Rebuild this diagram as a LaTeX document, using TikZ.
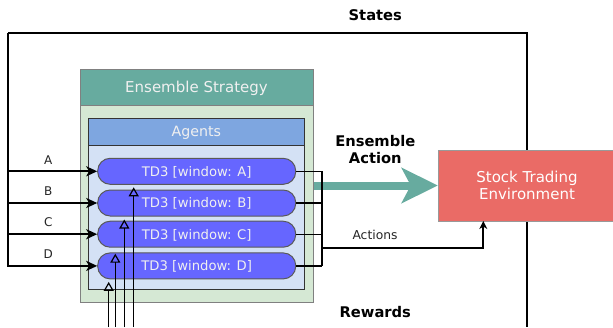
\documentclass[tikz,border=0pt]{standalone}
\usepackage{fontspec}
\setmainfont{DejaVu Sans}
\usetikzlibrary{arrows.meta}
\definecolor{enshd}{HTML}{67AB9F}
\definecolor{ensbd}{HTML}{D5E8D4}
\definecolor{aghd}{HTML}{7EA6E0}
\definecolor{agbd}{HTML}{D4E1F5}
\definecolor{tdfill}{HTML}{6666FF}
\definecolor{envfill}{HTML}{EA6B66}
\tikzset{
  box/.style={inner sep=0pt, line width=1pt},
  tdnode/.style={box, draw=black!65, fill=tdfill, rounded corners=12.5pt,
    minimum width=198pt, minimum height=26pt, text=white!94!black,
    font=\fontsize{13.2}{15.6}\selectfont, text height=9.6pt, text depth=0pt},
  lbl/.style={inner sep=0pt, text depth=0pt},
  boldlbl/.style={lbl, font=\fontsize{14.7}{17.5}\selectfont\bfseries, text height=10.7pt},
  flow/.style={line width=2pt},
  thinline/.style={line width=1.2pt},
  rwd/.style={thinline, -{Triangle[open, length=9pt, width=10pt]}},
}
\begin{document}
\begin{tikzpicture}[x=1pt,y=-1pt]
\clip (0,0) rectangle (613,327);
\fill[white] (0,0) rectangle (613,327);

% coordinates
\coordinate (stl) at (8,33);
\coordinate (envbot) at (527,327);
\coordinate (busTop) at (322,171.3);
\coordinate (busBot) at (322,265.9);
\coordinate (busAct) at (322,247.7);
\coordinate (envin) at (483.3,221);
\coordinate (r1) at (108.7,327);
\coordinate (r2) at (115.3,327);
\coordinate (r3) at (124.3,327);
\coordinate (r4) at (133.7,327);

% ensemble strategy container
\node[box, draw=black!50, fill=ensbd, minimum width=233pt, minimum height=233pt] (ens) at (196.5,185.5) {};
\node[box, draw=black!50, fill=enshd, minimum width=233pt, minimum height=36pt,
  text=white!94!black, font=\fontsize{15}{17}\selectfont, text height=10.9pt, text depth=0pt] (enshead) at (196.5,87) {Ensemble Strategy};
% agents container
\node[box, draw=black!80, fill=agbd, minimum width=215.3pt, minimum height=170.7pt] (ag) at (196.35,203.65) {};
\node[box, draw=black!80, fill=aghd, minimum width=215.3pt, minimum height=27pt,
  text=white!94!black, font=\fontsize{14.2}{17}\selectfont, text height=10.3pt, text depth=0pt] (aghead) at (196.35,131.8) {Agents};

% agents
\node[tdnode] (tdA) at (196.7,171.3) {TD3 [window: A]};
\node[tdnode] (tdB) at (196.7,203) {TD3 [window: B]};
\node[tdnode] (tdC) at (196.7,234.2) {TD3 [window: C]};
\node[tdnode] (tdD) at (196.7,265.9) {TD3 [window: D]};

% ensemble action arrow
\node[inner sep=0pt, minimum width=178pt, minimum height=71pt] (envph) at (527,185.5) {};
\draw[enshd, line width=8pt, -{Stealth[length=36pt, width=35pt, inset=9pt]}] (ens.east) -- (envph.west);

% states loop
\draw[flow] (envph.north) |- (stl);
\draw[flow] (envph.south) -- (envbot);
\foreach \n in {A,B,C,D}{
  \draw[flow, -{Stealth[length=11pt, width=10pt, inset=3pt]}] (stl) |- (td\n.west);
}

% environment box
\node[box, draw=black!40, fill=envfill, minimum width=178pt, minimum height=71pt,
  text=white, align=center, font=\fontsize{15}{17.7}\selectfont] (env) at (527,185.5) {Stock Trading\\Environment};

% actions bus
\foreach \n in {A,B,C,D}{
  \draw[thinline] (td\n.east) -- (busTop |- td\n.east);
}
\draw[thinline] (busTop) -- (busBot);
\draw[flow, -{Stealth[length=8pt, width=8pt, inset=2.5pt]}] (busAct) -| (envin);

% rewards arrows
\draw[rwd, shorten >=2.5pt] (r1) -- (r1 |- tdD.south);
\draw[rwd, shorten >=6pt] (r2) -- (r2 |- tdC.south);
\draw[rwd, shorten >=3pt] (r3) -- (r3 |- tdB.south);
\draw[rwd, shorten >=2.5pt] (r4) -- (r4 |- tdA.south);

% labels
\node[boldlbl] (states) at (375.3,15.5) {States};
\node[boldlbl, align=center, text height=, text depth=] (ensact) at (375.3,149.5) {Ensemble\\Action};
\node[boldlbl] (rewards) at (375.3,312) {Rewards};
\node[lbl, font=\fontsize{12.3}{14}\selectfont, text height=9pt, text=black!85] (actions) at (375,234.7) {Actions};
\node[lbl, font=\fontsize{12}{14}\selectfont, text height=8.8pt, text=black!85] (la) at (48.3,160) {A};
\node[lbl, font=\fontsize{12}{14}\selectfont, text height=8.8pt, text=black!85] (lb) at (48.3,190.8) {B};
\node[lbl, font=\fontsize{12}{14}\selectfont, text height=8.8pt, text=black!85] (lc) at (48.3,222.5) {C};
\node[lbl, font=\fontsize{12}{14}\selectfont, text height=8.8pt, text=black!85] (ld) at (48.3,254.2) {D};
\end{tikzpicture}
\end{document}
